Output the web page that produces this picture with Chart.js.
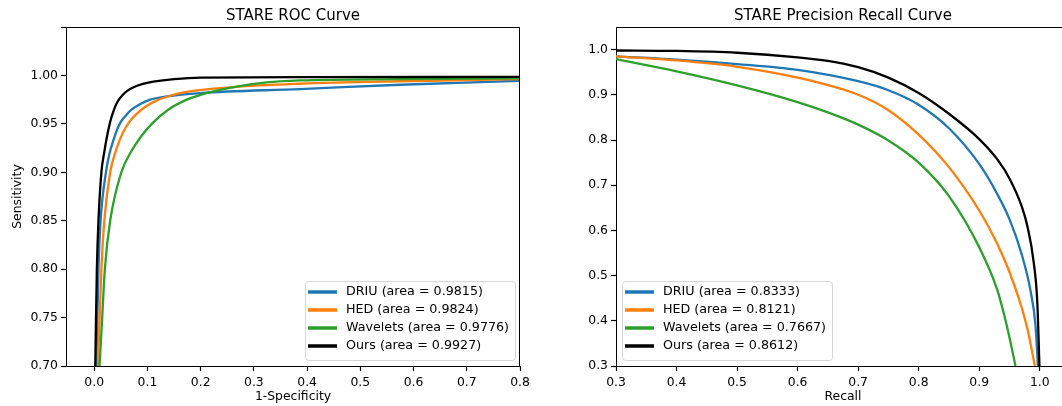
<!DOCTYPE html>
<html>
<head>
<meta charset="utf-8">
<script src="https://cdn.jsdelivr.net/npm/chart.js@4.4.1/dist/chart.umd.min.js"></script>
<style>
  html, body { margin: 0; padding: 0; background: #fff; }
  body { width: 1062px; height: 406px; position: relative; overflow: hidden; }
  #roc { position: absolute; left: 0; top: 0; }
  #pr { position: absolute; left: 540px; top: 0; }
</style>
</head>
<body>
<canvas id="roc" width="540" height="406"></canvas>
<canvas id="pr" width="530" height="406"></canvas>
<script>
// series names / colours / areas
const seriesNames = ['DRIU', 'HED', 'Wavelets', 'Ours'];
const seriesColors = ['#1f77b4', '#ff7f0e', '#2ca02c', '#000000'];
const rocAreas = ['0.9815', '0.9824', '0.9776', '0.9927'];
const prAreas = ['0.8333', '0.8121', '0.7667', '0.8612'];

// ROC curves (1-specificity, sensitivity)
const rocDriuX = [0.004, 0.008, 0.012, 0.022, 0.029, 0.036, 0.043, 0.050, 0.060, 0.070, 0.085, 0.105, 0.136, 0.199, 0.387, 0.575, 0.8];
const rocDriuY = [0.70, 0.80, 0.85, 0.90, 0.92, 0.933, 0.944, 0.952, 0.959, 0.9646, 0.970, 0.975, 0.9783, 0.9818, 0.9859, 0.9904, 0.9945];
const rocHedX = [0.007, 0.0135, 0.019, 0.030, 0.040, 0.050, 0.060, 0.072, 0.086, 0.100, 0.117, 0.140, 0.168, 0.262, 0.387, 0.575, 0.8];
const rocHedY = [0.70, 0.80, 0.85, 0.90, 0.921, 0.936, 0.947, 0.956, 0.9635, 0.969, 0.974, 0.9785, 0.9825, 0.988, 0.9914, 0.994, 0.9962];
const rocWavX = [0.010, 0.015, 0.020, 0.030, 0.051, 0.070, 0.088, 0.110, 0.139, 0.174, 0.211, 0.262, 0.324, 0.387, 0.575, 0.8];
const rocWavY = [0.70, 0.75, 0.80, 0.85, 0.90, 0.922, 0.937, 0.951, 0.9646, 0.975, 0.9818, 0.988, 0.9928, 0.9948, 0.9962, 0.9969];
const rocOursX = [0.002, 0.005, 0.008, 0.0135, 0.019, 0.024, 0.030, 0.036, 0.043, 0.052, 0.062, 0.075, 0.090, 0.111, 0.150, 0.200, 0.400, 0.8];
const rocOursY = [0.70, 0.80, 0.85, 0.90, 0.921, 0.937, 0.952, 0.963, 0.972, 0.979, 0.984, 0.988, 0.991, 0.9935, 0.9962, 0.9978, 0.9982, 0.9985];

// precision-recall curves (recall, precision)
const prDriuX = [0.30, 0.40, 0.50, 0.60, 0.70, 0.75, 0.80, 0.85, 0.90, 0.93, 0.95, 0.97, 0.985, 0.993, 0.997];
const prDriuY = [0.985, 0.978, 0.968, 0.955, 0.930, 0.910, 0.878, 0.826, 0.747, 0.680, 0.625, 0.548, 0.465, 0.390, 0.30];
const prHedX = [0.30, 0.40, 0.50, 0.60, 0.70, 0.75, 0.80, 0.85, 0.90, 0.93, 0.95, 0.97, 0.98, 0.992];
const prHedY = [0.985, 0.976, 0.962, 0.938, 0.900, 0.866, 0.812, 0.740, 0.644, 0.570, 0.508, 0.430, 0.380, 0.30];
const prWavX = [0.30, 0.40, 0.50, 0.60, 0.65, 0.70, 0.75, 0.80, 0.85, 0.90, 0.93, 0.946, 0.960];
const prWavY = [0.979, 0.952, 0.921, 0.884, 0.861, 0.834, 0.799, 0.750, 0.676, 0.563, 0.468, 0.387, 0.30];
const prOursX = [0.30, 0.40, 0.50, 0.60, 0.65, 0.70, 0.75, 0.80, 0.85, 0.90, 0.93, 0.95, 0.97, 0.98, 0.99, 0.996, 0.9995];
const prOursY = [0.998, 0.997, 0.993, 0.983, 0.975, 0.961, 0.938, 0.904, 0.858, 0.802, 0.757, 0.715, 0.654, 0.607, 0.530, 0.440, 0.30];

// ticks
const rocXTicks = [0, 0.1, 0.2, 0.3, 0.4, 0.5, 0.6, 0.7, 0.8];
const rocXLabels = ['0.0', '0.1', '0.2', '0.3', '0.4', '0.5', '0.6', '0.7', '0.8'];
const rocYTicks = [0.70, 0.75, 0.80, 0.85, 0.90, 0.95, 1.00, 1.05];
const rocYLabels = ['0.70', '0.75', '0.80', '0.85', '0.90', '0.95', '1.00', ''];
const prTicks = [0.3, 0.4, 0.5, 0.6, 0.7, 0.8, 0.9, 1.0];
const prLabels = ['0.3', '0.4', '0.5', '0.6', '0.7', '0.8', '0.9', '1.0'];

const FONT = "'DejaVu Sans', sans-serif";
const FS = 12.4;
Chart.defaults.font.family = FONT;
Chart.defaults.font.size = FS;
Chart.defaults.color = '#000';

function makeSets(xs, ys, areas) {
    return xs.map((x, k) => ({
        label: seriesNames[k] + ' (area = ' + areas[k] + ')',
        data: x.map((v, i) => ({ x: v, y: ys[k][i] })),
        borderColor: seriesColors[k],
        borderWidth: 2.3,
        pointRadius: 0,
        fill: false,
        cubicInterpolationMode: 'monotone',
        order: 4 - k   // Ours drawn on top
    }));
}

// titles over the plot area
const plotTitle = {
    id: 'plotTitle',
    afterDraw(chart, args, opts) {
        const { ctx, chartArea } = chart;
        ctx.save();
        ctx.font = '15px ' + FONT;
        ctx.fillStyle = '#000';
        ctx.textAlign = 'center';
        ctx.textBaseline = 'alphabetic';
        ctx.fillText(opts.text, (chartArea.left + chartArea.right) / 2, 20);
        ctx.restore();
    }
};

// top + right spines
const frame = {
    id: 'frame',
    afterDatasetsDraw(chart) {
        const { ctx, chartArea: a } = chart;
        ctx.save();
        ctx.strokeStyle = '#000';
        ctx.lineWidth = 1;
        ctx.beginPath();
        ctx.moveTo(a.left, Math.round(a.top) + 0.5);
        ctx.lineTo(a.right, Math.round(a.top) + 0.5);
        ctx.moveTo(Math.round(a.right) - 0.5, a.top);
        ctx.lineTo(Math.round(a.right) - 0.5, a.bottom);
        ctx.stroke();
        ctx.restore();
    }
};

// matplotlib-style boxed legend inside the axes
const boxLegend = {
    id: 'boxLegend',
    afterDraw(chart, args, opts) {
        const { ctx, chartArea } = chart;
        const sets = chart.data.datasets;
        ctx.save();
        ctx.font = '12.7px ' + FONT;
        const textW = Math.max(...sets.map(d => ctx.measureText(d.label).width));
        const w = Math.round(41 + textW + 6), h = 79;
        const left = opts.side === 'right' ? Math.round(chartArea.right - 5 - w) : Math.round(chartArea.left + 6);
        const top = Math.round(chartArea.bottom - 6 - h);
        const r = 3;
        ctx.beginPath();
        ctx.moveTo(left + r + 0.5, top + 0.5);
        ctx.arcTo(left + w + 0.5, top + 0.5, left + w + 0.5, top + h + 0.5, r);
        ctx.arcTo(left + w + 0.5, top + h + 0.5, left + 0.5, top + h + 0.5, r);
        ctx.arcTo(left + 0.5, top + h + 0.5, left + 0.5, top + 0.5, r);
        ctx.arcTo(left + 0.5, top + 0.5, left + w + 0.5, top + 0.5, r);
        ctx.closePath();
        ctx.fillStyle = 'rgba(255,255,255,0.8)';
        ctx.fill();
        ctx.strokeStyle = '#d6d6d6';
        ctx.lineWidth = 1;
        ctx.stroke();
        sets.forEach((d, i) => {
            const y = top + 11 + i * 18;
            ctx.strokeStyle = d.borderColor;
            ctx.lineWidth = 3.5;
            ctx.beginPath();
            ctx.moveTo(left + 3, y);
            ctx.lineTo(left + 32, y);
            ctx.stroke();
            ctx.fillStyle = '#000';
            ctx.textBaseline = 'middle';
            ctx.fillText(d.label, left + 41, y);
        });
        ctx.restore();
    }
};

function axis(min, max, ticks, labels, fixed, title, horizontal) {
    return {
        type: 'linear',
        min: min,
        max: max,
        afterBuildTicks: s => { s.ticks = ticks.map(v => ({ value: v })); },
        afterFit: s => {
            if (horizontal) { s.height = fixed; s.paddingLeft = 0; s.paddingRight = 0; }
            else { s.width = fixed; s.paddingTop = 0; s.paddingBottom = 0; }
        },
        ticks: {
            autoSkip: false,
            maxRotation: 0,
            padding: horizontal ? 4 : 3,
            callback: (v, i) => labels[i]
        },
        grid: {
            display: true,
            drawOnChartArea: false,
            drawTicks: true,
            tickLength: 5,
            tickColor: '#000',
            tickWidth: 1.2
        },
        border: { display: true, color: '#000', width: 1 },
        title: title ? {
            display: true,
            text: title,
            font: { size: FS },
            padding: horizontal ? { top: 0, bottom: 1.5 } : { top: 10.5, bottom: 0 }
        } : { display: false }
    };
}

new Chart(document.getElementById('roc'), {
    type: 'line',
    data: { datasets: makeSets([rocDriuX, rocHedX, rocWavX, rocOursX], [rocDriuY, rocHedY, rocWavY, rocOursY], rocAreas) },
    options: {
        responsive: false,
        animation: false,
        layout: { padding: { top: 27, right: 20, bottom: 0, left: 0 } },
        scales: {
            x: axis(-0.053, 0.8, rocXTicks, rocXLabels, 40, '1-Specificity', true),
            y: axis(0.7, 1.05, rocYTicks, rocYLabels, 66, 'Sensitivity', false)
        },
        plugins: {
            legend: { display: false },
            tooltip: { enabled: false },
            plotTitle: { text: 'STARE ROC Curve' },
            boxLegend: { side: 'right' }
        }
    },
    plugins: [frame, plotTitle, boxLegend]
});

new Chart(document.getElementById('pr'), {
    type: 'line',
    data: { datasets: makeSets([prDriuX, prHedX, prWavX, prOursX], [prDriuY, prHedY, prWavY, prOursY], prAreas) },
    options: {
        responsive: false,
        animation: false,
        layout: { padding: { top: 27, right: 0, bottom: 0, left: 0 } },
        scales: {
            x: axis(0.3, 1.05, prTicks, prLabels, 40, 'Recall', true),
            y: axis(0.3, 1.05, prTicks, prLabels, 76, '', false)
        },
        plugins: {
            legend: { display: false },
            tooltip: { enabled: false },
            plotTitle: { text: 'STARE Precision Recall Curve' },
            boxLegend: { side: 'left' }
        }
    },
    plugins: [frame, plotTitle, boxLegend]
});
</script>
</body>
</html>
